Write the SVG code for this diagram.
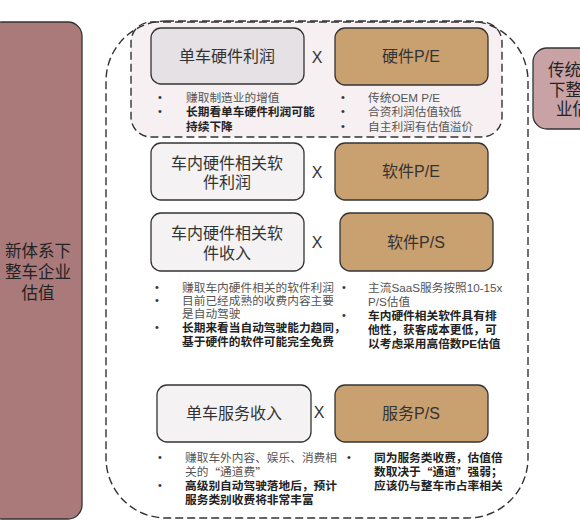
<svg xmlns="http://www.w3.org/2000/svg" width="580" height="520" viewBox="0 0 580 520">
<style>
text{font-family:"Liberation Sans","Noto Sans CJK SC",sans-serif;fill:#333;dominant-baseline:central}
.t{font-size:16px;text-anchor:middle}
.big{font-size:16.5px;text-anchor:middle;fill:#222}
.b{font-size:11.7px;fill:#555}
.bb{font-size:11.7px;font-weight:bold;fill:#222}
.dot{font-size:11px;fill:#333}
.q{font-family:"Noto Sans CJK SC",sans-serif}
.x{font-size:16px;text-anchor:middle}
.light{fill:#f4f2f3;stroke:#333;stroke-width:1.3}
.gray{fill:#e6e1e4;stroke:#333;stroke-width:1.3}
.brown{fill:#c9a070;stroke:#333;stroke-width:1.3}
.dash{fill:none;stroke:#333;stroke-width:1.4;stroke-dasharray:8 4}
</style>
<rect width="580" height="520" fill="#fff"/>
<g id="left-valuation">
<rect x="-12" y="22" width="94" height="497" rx="14" fill="#aa7a7b" stroke="#333" stroke-width="1.3"/>
<text class="big" x="38" y="251">新体系下</text>
<text class="big" x="38" y="272">整车企业</text>
<text class="big" x="38" y="293">估值</text>
</g>
<g id="right-valuation">
<rect x="533" y="48" width="70" height="81" rx="14" fill="#c9a2a6" stroke="#333" stroke-width="1.3"/>
<text class="big" x="548" y="70" style="text-anchor:start">传统</text>
<text class="big" x="549" y="90" style="text-anchor:start">下整</text>
<text class="big" x="556" y="109" style="text-anchor:start">业估</text>
</g>
<g id="frames">
<rect x="131" y="22" width="371" height="115" rx="20" class="dash" style="fill:#f6f0f2"/>
<rect x="106" y="21" width="422" height="497" rx="60" class="dash"/>
</g>
<g id="hw-profit">
<rect x="151" y="28" width="153" height="56" rx="10" class="gray"/>
<text class="t" x="227" y="56">单车硬件利润</text>
<text class="dot" x="158" y="97">•</text>
<text class="b" x="186" y="97">赚取制造业的增值</text>
<text class="dot" x="158" y="111">•</text>
<text class="bb" x="186" y="111">长期看单车硬件利润可能</text>
<text class="bb" x="186" y="126">持续下降</text>
</g>
<g id="hw-pe">
<rect x="335" y="28" width="153" height="57" rx="10" class="brown"/>
<text class="t" x="411" y="56">硬件P/E</text>
<text class="dot" x="341" y="97">•</text>
<text class="b" x="368" y="97">传统OEM P/E</text>
<text class="dot" x="341" y="111">•</text>
<text class="b" x="368" y="111">合资利润估值较低</text>
<text class="dot" x="341" y="126">•</text>
<text class="b" x="368" y="126">自主利润有估值溢价</text>
</g>
<g id="sw-profit">
<rect x="151" y="143" width="153" height="57" rx="10" class="light"/>
<text class="t" x="227" y="163">车内硬件相关软</text>
<text class="t" x="227" y="182">件利润</text>
</g>
<g id="sw-pe">
<rect x="335" y="143" width="153" height="57" rx="10" class="brown"/>
<text class="t" x="411" y="171">软件P/E</text>
</g>
<g id="sw-revenue">
<rect x="151" y="213" width="153" height="58" rx="10" class="light"/>
<text class="t" x="227" y="233">车内硬件相关软</text>
<text class="t" x="227" y="253">件收入</text>
<text class="dot" x="155" y="287">•</text>
<text class="b" x="182" y="287">赚取车内硬件相关的软件利润</text>
<text class="dot" x="155" y="300">•</text>
<text class="b" x="182" y="300">目前已经成熟的收费内容主要</text>
<text class="b" x="182" y="313">是自动驾驶</text>
<text class="dot" x="155" y="327">•</text>
<text class="bb" x="182" y="327">长期来看当自动驾驶能力趋同，</text>
<text class="bb" x="182" y="341">基于硬件的软件可能完全免费</text>
</g>
<g id="sw-ps">
<rect x="340" y="213" width="153" height="58" rx="10" class="brown"/>
<text class="t" x="416" y="242">软件P/S</text>
<text class="dot" x="342" y="287">•</text>
<text class="b" x="368" y="287">主流SaaS服务按照10-15x</text>
<text class="b" x="368" y="301">P/S估值</text>
<text class="dot" x="342" y="315">•</text>
<text class="bb" x="368" y="315">车内硬件相关软件具有排</text>
<text class="bb" x="368" y="329">他性，获客成本更低，可</text>
<text class="bb" x="368" y="343">以考虑采用高倍数PE估值</text>
</g>
<g id="svc-revenue">
<rect x="157" y="385" width="154" height="57" rx="10" class="light"/>
<text class="t" x="234" y="413">单车服务收入</text>
<text class="dot" x="158" y="457">•</text>
<text class="b" x="185" y="457">赚取车外内容、娱乐、消费相</text>
<text class="b" x="185" y="471">关的<tspan class="q">“</tspan>通道费<tspan class="q">”</tspan></text>
<text class="dot" x="158" y="485">•</text>
<text class="bb" x="185" y="485">高级别自动驾驶落地后，预计</text>
<text class="bb" x="185" y="499">服务类别收费将非常丰富</text>
</g>
<g id="svc-ps">
<rect x="335" y="385" width="153" height="57" rx="10" class="brown"/>
<text class="t" x="411" y="413">服务P/S</text>
<text class="dot" x="347" y="457">•</text>
<text class="bb" x="374" y="457">同为服务类收费，估值倍</text>
<text class="bb" x="374" y="471">数取决于<tspan class="q">“</tspan>通道<tspan class="q">”</tspan>强弱；</text>
<text class="bb" x="374" y="485">应该仍与整车市占率相关</text>
</g>
<g id="connectors">
<text class="x" x="317" y="57">X</text>
<text class="x" x="317" y="172">X</text>
<text class="x" x="317" y="242">X</text>
<text class="x" x="319" y="412">X</text>
</g>
</svg>
